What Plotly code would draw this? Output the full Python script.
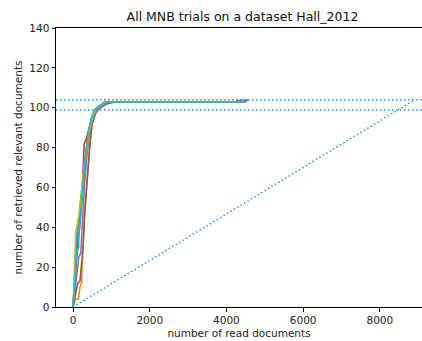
import plotly.graph_objects as go

# ---- data ----
total_docs = 8911
total_relevant = 104
threshold_95 = 98.8

t1_x = [0, 50, 100, 130, 180, 250, 320, 400, 480, 560, 650, 800, 950, 4380, 4420]
t1_y = [0, 15, 30, 42, 48, 60, 75, 85, 92, 98, 100, 102, 103, 103, 104]
t2_x = [0, 60, 140, 180, 220, 260, 300, 350, 420, 480, 560, 650, 780, 1100, 4480, 4560]
t2_y = [0, 4, 4, 10, 12, 30, 48, 60, 78, 90, 97, 100, 102, 103, 103, 104]
t3_x = [0, 40, 90, 150, 220, 300, 380, 460, 540, 620, 760, 900, 4300, 4340]
t3_y = [0, 18, 34, 45, 58, 72, 84, 92, 97, 100, 102, 103, 103, 104]
t4_x = [0, 50, 110, 170, 230, 290, 340, 420, 500, 580, 700, 900, 4420, 4460]
t4_y = [0, 14, 28, 40, 55, 82, 84, 90, 96, 99, 101, 103, 103, 104]
t5_x = [0, 70, 150, 200, 240, 300, 380, 460, 560, 650, 800, 1000, 4250, 4300]
t5_y = [0, 12, 25, 27, 40, 62, 80, 90, 96, 99, 101, 103, 103, 104]
t6_x = [0, 60, 120, 180, 230, 260, 300, 340, 380, 430, 500, 600, 700, 850, 1150, 4500, 4540]
t6_y = [0, 6, 12, 13, 25, 30, 45, 55, 65, 80, 92, 98, 100, 102, 103, 103, 104]
t7_x = [0, 40, 90, 160, 230, 300, 370, 450, 520, 600, 720, 880, 4400, 4440]
t7_y = [0, 16, 32, 44, 56, 74, 83, 90, 95, 99, 101, 103, 103, 104]
t8_x = [0, 45, 100, 160, 240, 310, 390, 470, 550, 640, 780, 950, 4330, 4380]
t8_y = [0, 17, 34, 42, 56, 70, 82, 91, 96, 99, 101, 103, 103, 104]
t9_x = [0, 30, 70, 120, 190, 260, 340, 420, 520, 600, 700, 850, 4460, 4500]
t9_y = [0, 20, 38, 42, 52, 66, 78, 88, 96, 99, 101, 103, 103, 104]
t10_x = [0, 40, 100, 150, 150, 200, 260, 320, 400, 480, 560, 680, 820, 4450, 4520]
t10_y = [0, 12, 28, 30, 36, 45, 62, 76, 88, 95, 99, 101, 103, 103, 104]

trials = [(t1_x, t1_y), (t2_x, t2_y), (t3_x, t3_y), (t4_x, t4_y), (t5_x, t5_y),
          (t6_x, t6_y), (t7_x, t7_y), (t8_x, t8_y), (t9_x, t9_y), (t10_x, t10_y)]
colors = ["#1f77b4", "#ff7f0e", "#2ca02c", "#d62728", "#9467bd",
          "#8c564b", "#e377c2", "#7f7f7f", "#bcbd22", "#17becf"]

x_ticks = [0, 2000, 4000, 6000, 8000]
y_ticks = [0, 20, 40, 60, 80, 100, 120, 140]

fig = go.Figure()
for (tx, ty), c in zip(trials, colors):
    fig.add_trace(go.Scatter(x=tx, y=ty, mode="lines",
                             line=dict(color=c, width=1.5), showlegend=False,
                             hoverinfo="skip"))

xr = [-445, 9100]
dot = dict(color="#1e90ff", width=1.5, dash="1.5px,2.5px")
fig.add_trace(go.Scatter(x=xr, y=[total_relevant, total_relevant], mode="lines",
                         line=dot, showlegend=False))
fig.add_trace(go.Scatter(x=xr, y=[threshold_95, threshold_95], mode="lines",
                         line=dot, showlegend=False))
fig.add_trace(go.Scatter(x=[0, total_docs], y=[0, total_relevant], mode="lines",
                         line=dot, showlegend=False))

axis_common = dict(showgrid=False, zeroline=False, showline=True, linecolor="black",
                   linewidth=1, ticks="outside", ticklen=3.5, tickwidth=0.8,
                   tickcolor="black", tickfont=dict(size=10.5, color="#222"))
fig.update_xaxes(range=xr, tickvals=x_ticks, mirror=True,
                 title=dict(text="number of read documents", font=dict(size=10.5, color="#222"), standoff=4),
                 **axis_common)
fig.update_yaxes(range=[0, 140], tickvals=y_ticks, mirror=False,
                 title=dict(text="number of retrieved relevant documents", font=dict(size=10.5, color="#222"), standoff=4),
                 **axis_common)

fig.update_layout(
    width=422, height=341,
    margin=dict(l=56, r=0, t=28, b=34),
    paper_bgcolor="white", plot_bgcolor="white",
    font=dict(family="DejaVu Sans", color="#222"),
    title=dict(text="All MNB trials on a dataset Hall_2012", font=dict(size=12.5, color="#111"),
               x=242.5 / 422, xref="container", xanchor="center",
               y=1 - 17 / 341, yref="container", yanchor="middle"),
)

fig.write_html("out.html")
